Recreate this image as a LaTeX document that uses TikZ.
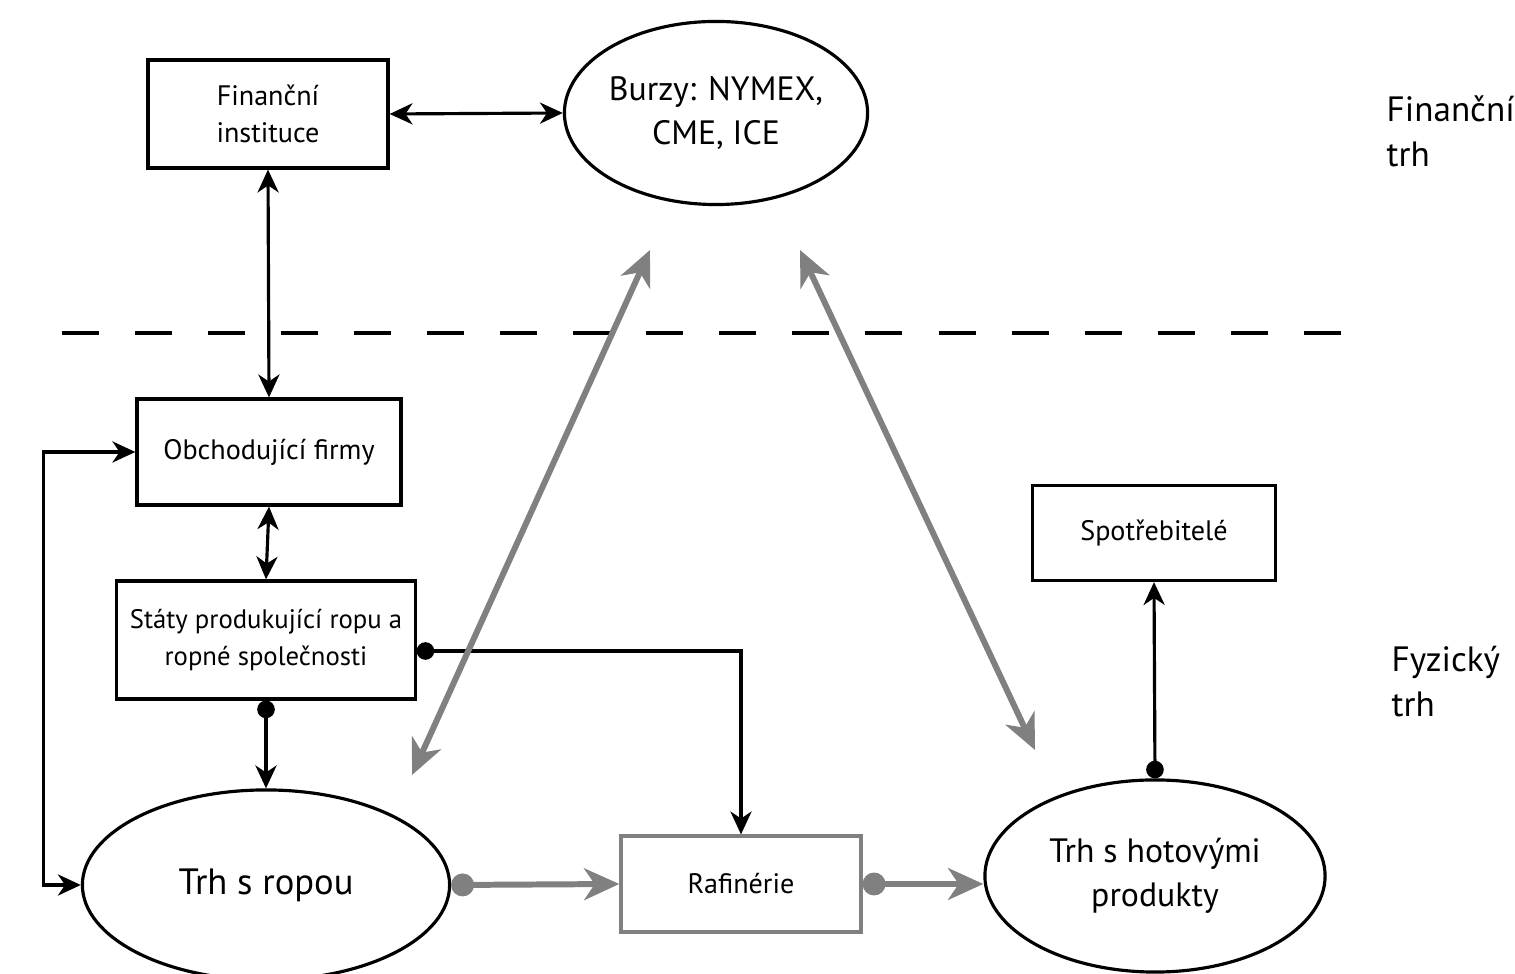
\documentclass[tikz,border=0pt]{standalone}
\usepackage{fontspec}
\setmainfont{PT Sans}
\usetikzlibrary{
  arrows.meta,
  positioning,
  shapes.geometric,
}
\tikzset{
  >={Stealth[length=6.5pt,width=6pt,inset=2pt]},
}

\begin{document}
\begin{tikzpicture}[x=0.01cm,y=-0.01cm,
      box/.style={
        draw=black,
        line width=0.9pt,
        align=center,
        inner sep=0pt,
        font=\fontsize{8}{10.5}\selectfont
      },
      oval/.style={
        draw=black,
        ellipse,
        line width=0.9pt,
        align=center,
        inner sep=0pt,
        font=\fontsize{9.6}{12.5}\selectfont
      },
      side/.style={align=left,anchor=north west,inner sep=0pt,font=\fontsize{10}{12.8}\selectfont},
      link/.style={line width=0.9pt},
      flow/.style={line width=1.7pt,draw=gray,
        >={Stealth[length=10pt,width=9pt,inset=3pt]}},
      dotted end/.style={{Circle[length=5pt]}->},
    ]
      \useasboundingbox (0,0) rectangle (1515,974);

      \node[box,minimum width=2.4cm,minimum height=1.08cm] at (268,114) (fin) {Finanční\\instituce};
      \node[oval,minimum width=3.03cm,minimum height=1.83cm] at (716,113) (burzy) {Burzy: NYMEX,\\CME, ICE};
      \node[box,minimum width=2.64cm,minimum height=1.06cm] at (269,452) (obch) {Obchodující firmy};
      \node[box,minimum width=2.98cm,minimum height=1.18cm,font=\fontsize{7.6}{10.5}\selectfont] at (266,640) (staty) {Státy produkující ropu a\\ropné společnosti};
      \node[oval,minimum width=3.67cm,minimum height=1.9cm,font=\fontsize{10.4}{13}\selectfont] at (266,885) (ropa) {Trh s ropou};
      \node[box,draw=gray,minimum width=2.4cm,minimum height=0.96cm] at (741,884) (raf) {Rafinérie};
      \node[oval,minimum width=3.4cm,minimum height=1.92cm] at (1155,876) (hotove) {Trh s hotovými\\produkty};
      \node[box,minimum width=2.43cm,minimum height=0.95cm] at (1154,533) (spotr) {Spotřebitelé};

      \node[side] at (1386,95) (fintrh) {Finanční\\trh};
      \node[side] at (1391,645) (fyztrh) {Fyzický\\trh};

      % hranice mezi trhy
      \coordinate (sepL) at (62,333);
      \coordinate (sepR) at (1350,333);
      \draw[link,dash pattern=on 0.37cm off 0.36cm] (sepL) -- (sepR);

      \draw[link,<->] (fin.east) -- (burzy.west);
      \draw[link,<->] (fin.south) -- (obch.north);
      \draw[link,<->] (obch.south) -- (staty.north);
      \draw[link,<->] (obch.west) -- ++(-92,0) |- (ropa.west);
      \draw[link,dotted end] (staty.south) -- (ropa.north);
      \draw[link,dotted end] ([yshift=-0.11cm]staty.east) -| (raf.north);
      \draw[link,dotted end] (hotove.north) -- (spotr.south);

      \coordinate (a1) at (412,775);
      \coordinate (a2) at (650,250);
      \coordinate (b1) at (800,250);
      \coordinate (b2) at (1035,750);
      \draw[flow,<->] (a1) -- (a2);
      \draw[flow,<->] (b1) -- (b2);
      \draw[flow,{Circle[length=6.5pt]}->] (ropa.east) -- (raf.west);
      \draw[flow,{Circle[length=6.5pt]}->] (raf.east) -- (raf.east -| hotove.west);
    \end{tikzpicture}
\end{document}
